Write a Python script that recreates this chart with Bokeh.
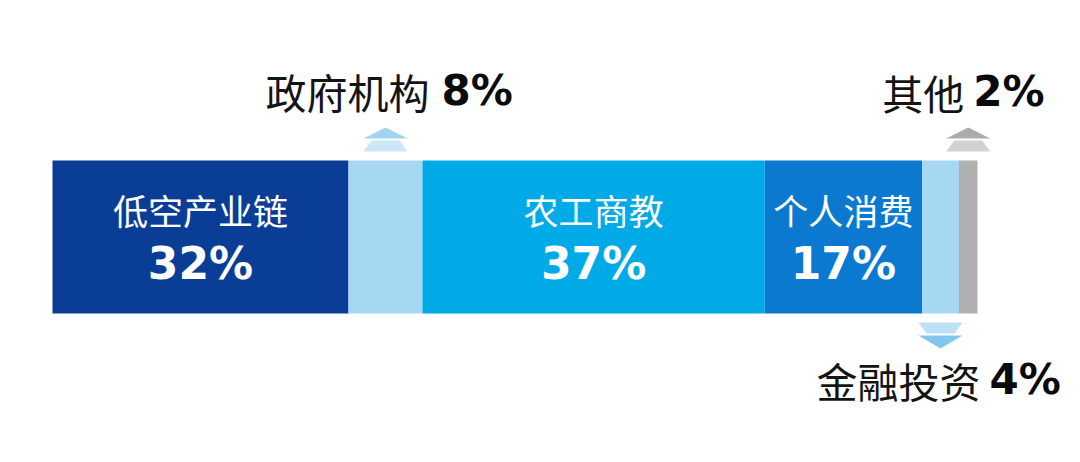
from bokeh.plotting import figure
from bokeh.models import Range1d, ColumnDataSource
from bokeh.core.properties import value
from bokeh.embed import file_html
from bokeh.resources import INLINE

# ---- data ----
categories = ["低空产业链", "政府机构", "农工商教", "个人消费", "金融投资", "其他"]
shares = [32, 8, 37, 17, 4, 2]
labels = ["32%", "8%", "37%", "17%", "4%", "2%"]
colors = ["#0A3D96", "#A6D7F3", "#00AAE7", "#0A79CF", "#A6D7F3", "#B0B0B0"]

W, H = 1064, 446
PX_PER_PCT = 9.25
LEFT_PX = 52

left = []
acc = 0
for s in shares:
    left.append(acc)
    acc += s
right = [l + s for l, s in zip(left, shares)]
centers = [(l + r) / 2 for l, r in zip(left, right)]

p = figure(width=W, height=H, output_backend="svg", toolbar_location=None,
           min_border=0, x_range=Range1d(-LEFT_PX / PX_PER_PCT, (W - LEFT_PX) / PX_PER_PCT),
           y_range=Range1d(H, 0))
p.axis.visible = False
p.grid.visible = False
p.outline_line_color = None
p.background_fill_color = "white"

BAR_TOP, BAR_BOT = 160, 313
src = ColumnDataSource(dict(left=left, right=right, color=colors,
                            top=[BAR_TOP] * 6, bottom=[BAR_BOT] * 6))
p.quad(left="left", right="right", top="top", bottom="bottom", fill_color="color",
       line_color=None, source=src)

def dx(px):
    return px / PX_PER_PCT

HALF = 22
INNER = 14

def up_arrow(c, col_top, col_bot):
    p.patch([c - dx(HALF), c, c + dx(HALF)], [138, 127, 138], fill_color=col_top, line_color=None)
    p.patch([c - dx(HALF), c - dx(INNER), c + dx(INNER), c + dx(HALF)], [151, 140, 140, 151],
            fill_color=col_bot, line_color=None)

def down_arrow(c, col_top, col_bot):
    p.patch([c - dx(HALF), c + dx(HALF), c + dx(INNER), c - dx(INNER)], [322, 322, 333, 333],
            fill_color=col_top, line_color=None)
    p.patch([c - dx(HALF), c + dx(HALF), c], [335, 335, 348], fill_color=col_bot, line_color=None)

up_arrow(centers[1], "#A3D3F1", "#CBE7F8")
up_arrow(centers[5], "#ABABAB", "#D2D2D2")
down_arrow(centers[4], "#BCE0F6", "#82C6EE")

CJK = value("Noto Sans CJK SC")
NUM = value("DejaVu Sans")

# inside labels
for i in [0, 2, 3]:
    p.text(x=[centers[i]], y=[209], text=[categories[i]], text_font=CJK, text_font_size="35px",
           text_color="white", text_align="center", text_baseline="middle")
    p.text(x=[centers[i]], y=[263], text=[labels[i]], text_font=NUM, text_font_size="44px",
           text_font_style="bold", text_color="white", text_align="center",
           text_baseline="middle")

# outside labels: (index, cjk offset px, num offset px, centre y)
outside = [(1, -120, 56, 90), (5, -86, 5, 91), (4, -124, 49, 379)]
for i, off_c, off_n, cy in outside:
    p.text(x=[centers[i]], y=[cy], text=[categories[i]], x_offset=off_c, text_font=CJK,
           text_font_size="41px", text_color="#141414", text_align="left",
           text_baseline="middle")
    p.text(x=[centers[i]], y=[cy], text=[labels[i]], x_offset=off_n, text_font=NUM,
           text_font_size="42px", text_font_style="bold", text_color="#0A0A0A",
           text_align="left", text_baseline="middle")

open("out.html", "w").write(file_html(p, INLINE))
